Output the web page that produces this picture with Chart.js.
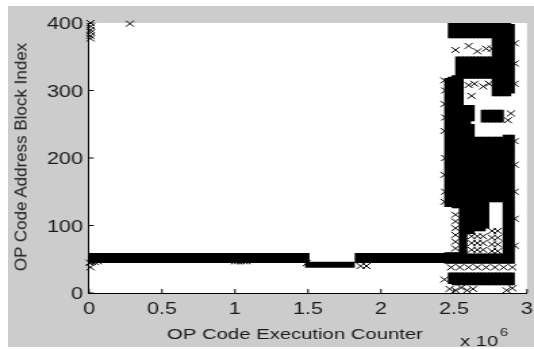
<!DOCTYPE html>
<html>
<head>
<meta charset="utf-8">
<script src="https://cdn.jsdelivr.net/npm/chart.js@4.4.0/dist/chart.umd.min.js"></script>
<style>
html,body{margin:0;padding:0;background:#fff;width:534px;height:349px;overflow:hidden;}
#bg{position:absolute;left:8px;top:6px;width:526px;height:341px;background:#cccccc;}
#wrap{position:absolute;left:0;top:0;width:395px;height:349px;transform:scaleX(1.35190);transform-origin:0 0;}
#ylab{position:absolute;left:21px;top:157px;transform:translate(-50%,-50%) rotate(-90deg);font-family:"Liberation Sans",Arial,sans-serif;font-size:17px;line-height:17px;white-space:nowrap;color:#1a1a1a;}
</style>
</head>
<body>
<div id="bg"></div>
<div id="wrap"><canvas id="c" width="395" height="349"></canvas></div>
<div id="ylab">OP Code Address Block Index</div>
<script>
// ---- data (x in units of 10^6 executions) ----
const xTicks = [0, 0.5, 1, 1.5, 2, 2.5, 3];
const yTicks = [0, 100, 200, 300, 400];
const xTitle = 'OP Code Execution Counter';
const yTitle = 'OP Code Address Block Index';

// dense horizontal runs of points (start x, end x, block index)
const bandStartX = [0, 1.48, 1.82];
const bandEndX   = [1.51, 1.82, 2.45];
const bandLevel  = [52, 42, 52];

// dense point cloud after 2.45e6: per column, ranges of block index that are filled
const cloudColumnX = [2.45, 2.475, 2.5, 2.525, 2.55, 2.575, 2.6, 2.625, 2.65, 2.675,
                      2.7, 2.725, 2.75, 2.775, 2.8, 2.825, 2.85, 2.875, 2.9];
const cloudRuns = [
  [[44,60],[128,318]],
  [[14,30],[44,60],[128,320],[378,400]],
  [[12,30],[44,60],[126,322],[378,400]],
  [[12,30],[44,60],[126,350],[378,400]],
  [[12,30],[44,350],[378,400]],
  [[12,30],[44,278],[318,350],[378,400]],
  [[12,30],[44,58],[88,278],[318,350],[378,400]],
  [[12,30],[44,58],[88,250],[255,278],[318,350],[378,400]],
  [[12,30],[44,58],[92,231],[318,350],[378,400]],
  [[12,30],[44,58],[92,231],[318,350],[378,400]],
  [[12,30],[44,58],[92,231],[253,271],[318,350],[378,400]],
  [[12,30],[44,58],[96,231],[253,271],[318,350],[378,400]],
  [[12,30],[44,58],[135,231],[253,271],[318,350],[378,400]],
  [[12,30],[44,58],[135,231],[253,271],[292,400]],
  [[12,30],[44,58],[135,231],[253,271],[292,400]],
  [[12,30],[44,58],[135,231],[253,271],[292,400]],
  [[12,30],[44,234],[292,400]],
  [[12,30],[44,234],[292,400]],
  [[12,30],[44,234],[296,398]]
];

// individual scattered points
const markerX = [0.01,0.013,0.01,0.013,0.01,0.01,0.28,
  0.005,0.02,0.04,0.06,0.01,
  1.0,1.02,1.04,1.06,1.08,
  1.49,1.86,1.9,
  2.51,2.51,2.51,2.51,2.51,2.51,
  2.62,2.62,2.62,2.66,2.66,2.66,2.70,2.70,2.70,
  2.76,2.76,2.76,2.76,2.80,2.80,2.80,2.80,
  2.48,2.54,2.60,2.66,2.72,2.78,2.84,2.90,
  2.47,2.51,2.55,2.59,2.63,2.86,2.9,
  2.51,2.6,2.66,2.72,2.76,
  2.60,2.64,2.70,2.74,
  2.62,2.87,2.89,
  2.44,2.44,2.44,2.44,
  2.915,2.915,2.915,2.915,2.915,2.915,2.915,2.915,
  2.435,2.435,2.435,2.435,2.435,2.435];
const markerY = [400,395,390,386,381,377,399,
  45,46,46,47,38,
  47,47,47,47,47,
  44,40,40,
  66,76,86,96,106,116,
  64,74,84,64,74,84,64,74,84,
  62,72,82,92,62,72,82,92,
  38,38,38,38,38,38,38,38,
  6,4,8,4,6,4,7,
  360,366,358,362,362,
  308,310,306,310,
  292,256,266,
  300,260,200,150,
  70,110,150,190,225,310,340,370,
  135,175,240,280,315,20];

// ---- build datasets from the arrays ----
const cloudBars = [];
cloudColumnX.forEach((x, i) => cloudRuns[i].forEach(r => cloudBars.push({x: x, y: [r[0], r[1]]})));
const markers = markerX.map((x, i) => ({x: x, y: markerY[i]}));
const bandWidths = [10, 6, 10];
const bandSets = bandLevel.map((lvl, i) => ({
  type: 'line',
  data: [{x: bandStartX[i], y: lvl}, {x: bandEndX[i], y: lvl}],
  borderColor: '#000', borderWidth: bandWidths[i], borderCapStyle: 'butt',
  pointRadius: 0, fill: false, tension: 0
}));

const FONT = '"Liberation Sans", Arial, sans-serif';
const TXT = '#1a1a1a';

const chartDeco = {
  id: 'chartDeco',
  beforeDraw(chart) {
    const {ctx, chartArea: a} = chart;
    ctx.save();
    ctx.fillStyle = '#ffffff';
    ctx.fillRect(a.left, a.top, a.right - a.left, a.bottom - a.top);
    ctx.restore();
  },
  afterDraw(chart) {
    const {ctx, chartArea: a, scales} = chart;
    ctx.save();
    ctx.strokeStyle = '#000';
    ctx.lineWidth = 1;
    ctx.beginPath();
    xTicks.forEach(v => { const p = scales.x.getPixelForValue(v); ctx.moveTo(p, a.bottom); ctx.lineTo(p, a.bottom - 4); });
    yTicks.forEach(v => { const p = scales.y.getPixelForValue(v); ctx.moveTo(a.left, p); ctx.lineTo(a.left + 3.5, p); });
    ctx.stroke();
    ctx.fillStyle = TXT;
    ctx.textBaseline = 'alphabetic';
    ctx.font = '15px ' + FONT;
    ctx.textAlign = 'center';
    ctx.fillText(xTitle, 218.2, 339);
    ctx.textAlign = 'left';
    ctx.fillText('x 10', 340.2, 346);
    ctx.font = '11px ' + FONT;
    ctx.fillText('6', 369.8, 336);
    ctx.restore();
  }
};

new Chart(document.getElementById('c'), {
  type: 'scatter',
  data: {
    datasets: [
      {type: 'bar', data: cloudBars, backgroundColor: '#000', borderWidth: 0, barThickness: 3, grouped: false},
      ...bandSets,
      {type: 'scatter', data: markers, pointStyle: 'crossRot', pointRadius: 4.2, pointHoverRadius: 4.2,
       borderColor: '#000', backgroundColor: '#000', borderWidth: 1, showLine: false, clip: false}
    ]
  },
  options: {
    responsive: false,
    animation: false,
    events: [],
    layout: {padding: {left: 0, right: 5.2, top: 23, bottom: 0}},
    plugins: {legend: {display: false}, tooltip: {enabled: false}},
    scales: {
      x: {
        type: 'linear', min: 0, max: 3, offset: false,
        afterBuildTicks: s => { s.ticks = xTicks.map(v => ({value: v})); },
        afterFit: s => { s.height = 56; s.paddingLeft = 0; s.paddingRight = 0; },
        grid: {display: false, drawTicks: false},
        border: {display: true, color: '#000', width: 1},
        ticks: {padding: 6.9, color: TXT, font: {family: FONT, size: 16}, maxRotation: 0, autoSkip: false,
                callback: v => String(v)},
        title: {display: false, text: xTitle}
      },
      y: {
        type: 'linear', min: 0, max: 400,
        afterBuildTicks: s => { s.ticks = yTicks.map(v => ({value: v})); },
        afterFit: s => { s.width = 65.83; s.paddingTop = 0; s.paddingBottom = 0; },
        grid: {display: false, drawTicks: false},
        border: {display: true, color: '#000', width: 1},
        ticks: {padding: 4.5, labelOffset: 2, color: TXT, font: {family: FONT, size: 16}, autoSkip: false,
                callback: v => String(v)},
        title: {display: false, text: yTitle}
      }
    }
  },
  plugins: [chartDeco]
});
</script>
</body>
</html>
